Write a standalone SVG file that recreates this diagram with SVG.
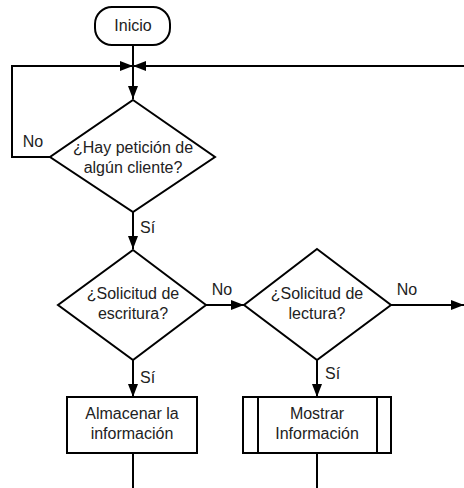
<svg xmlns="http://www.w3.org/2000/svg" width="464" height="488" viewBox="0 0 464 488">
<style>
.s{fill:#fff;stroke:#000;stroke-width:2}
.c{fill:none;stroke:#000;stroke-width:2}
text{font-family:"Liberation Sans",Arial,sans-serif;font-size:16px;fill:#222}
.m{text-anchor:middle}
</style>
<defs>
<marker id="a" markerUnits="userSpaceOnUse" markerWidth="14" markerHeight="10" refX="13" refY="5" orient="auto">
<path d="M0,0 L13,5 L0,10 z" fill="#000"/>
</marker>
</defs>
<rect width="464" height="488" fill="#fff"/>
<g id="connectors">
<path class="c" d="M133,45 V99" marker-end="url(#a)"/>
<path class="c" d="M50,157 H12 V66 H133" marker-end="url(#a)"/>
<path class="c" d="M464,66 H133" marker-end="url(#a)"/>
<path class="c" d="M133,212 V249" marker-end="url(#a)"/>
<path class="c" d="M206,305 H244" marker-end="url(#a)"/>
<path class="c" d="M391,305 H464" marker-end="url(#a)"/>
<path class="c" d="M133,360 V397" marker-end="url(#a)"/>
<path class="c" d="M317,360 V397" marker-end="url(#a)"/>
<path class="c" d="M133,453 V488"/>
<path class="c" d="M317,453 V488"/>
<text x="33" y="147" class="m">No</text>
<text x="140" y="233">Sí</text>
<text x="222" y="295" class="m">No</text>
<text x="407" y="295" class="m">No</text>
<text x="140" y="383">Sí</text>
<text x="325" y="379">Sí</text>
</g>
<g id="inicio">
<rect class="s" x="95" y="7" width="75" height="38" rx="17"/>
<text x="133" y="31" class="m">Inicio</text>
</g>
<g id="peticion">
<path class="s" d="M133,100 L215,157 L133,212 L50,157 z"/>
<text x="133" y="153" class="m">¿Hay petición de</text>
<text x="133" y="173" class="m">algún cliente?</text>
</g>
<g id="escritura">
<path class="s" d="M133,250 L206,305 L133,360 L58,305 z"/>
<text x="133" y="299" class="m">¿Solicitud de</text>
<text x="133" y="319" class="m">escritura?</text>
</g>
<g id="lectura">
<path class="s" d="M317,249 L391,305 L317,360 L244,305 z"/>
<text x="317" y="299" class="m">¿Solicitud de</text>
<text x="317" y="319" class="m">lectura?</text>
</g>
<g id="almacenar">
<rect class="s" x="67" y="397" width="130" height="56"/>
<text x="132" y="419" class="m">Almacenar la</text>
<text x="132" y="439" class="m">información</text>
</g>
<g id="mostrar">
<rect class="s" x="243" y="397" width="148" height="56"/>
<path class="c" d="M258,397 V453 M377,397 V453"/>
<text x="317" y="419" class="m">Mostrar</text>
<text x="317" y="439" class="m">Información</text>
</g>
</svg>
